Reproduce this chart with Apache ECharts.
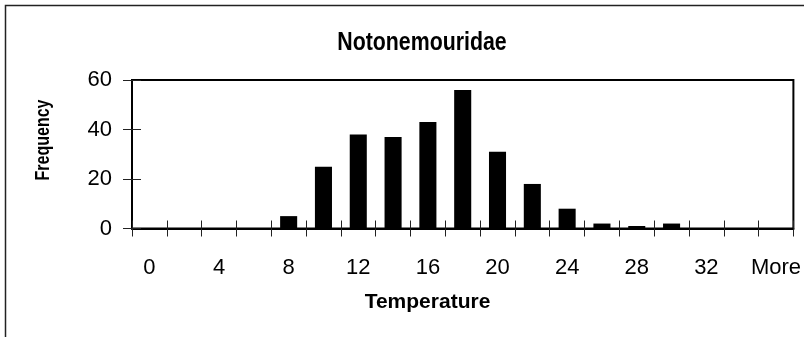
<!DOCTYPE html>
<html>
<head>
<meta charset="utf-8">
<title>Notonemouridae</title>
<script src="https://cdn.jsdelivr.net/npm/echarts@6/dist/echarts.min.js"></script>
<style>
  html, body { margin: 0; padding: 0; background: #fff; }
  #chart { width: 804px; height: 337px; }
</style>
</head>
<body>
<div id="chart"></div>
<script>
// Histogram bins (upper edge of each temperature bin) and their counts
const temperatureBins = ['0', '2', '4', '6', '8', '10', '12', '14', '16', '18',
  '20', '22', '24', '26', '28', '30', '32', '34', 'More'];
const frequency = [0, 0, 0, 0, 5, 25, 38, 37, 43, 56, 31, 18, 8, 2, 1, 2, 0, 0, 0];
const yMin = 0;
const yMax = 60;
const yStep = 20;

const FONT = "'Liberation Sans', Arial, sans-serif";

const chart = echarts.init(document.getElementById('chart'), null, { renderer: 'canvas' });

const catAxisBase = {
  type: 'category',
  data: temperatureBins,
  gridIndex: 0,
  position: 'bottom',
  boundaryGap: true
};

chart.setOption({
  animation: false,
  backgroundColor: '#fff',
  grid: {
    left: 132, right: 8.5, top: 80, bottom: 108.5,
    show: true,
    borderColor: '#000',
    borderWidth: 2,
    backgroundColor: 'transparent'
  },
  xAxis: [
    Object.assign({}, catAxisBase, {
      axisLine: { show: true, lineStyle: { color: '#000', width: 2 } },
      axisTick: { show: true, interval: 0, alignWithLabel: false, length: 8, lineStyle: { color: '#222', width: 1 } },
      axisLabel: { interval: 1, margin: 28, fontFamily: FONT, fontSize: 22, color: '#000' },
      splitLine: { show: false }
    }),
    // tick marks on the inner side of the category axis
    Object.assign({}, catAxisBase, {
      axisLine: { show: false },
      axisTick: { show: true, inside: true, interval: 0, alignWithLabel: false, length: 8, lineStyle: { color: '#222', width: 1 } },
      axisLabel: { show: false },
      splitLine: { show: false }
    })
  ],
  yAxis: [
    {
      type: 'value',
      min: yMin, max: yMax, interval: yStep,
      position: 'left',
      axisLine: { show: true, lineStyle: { color: '#000', width: 2 } },
      axisTick: { show: true, length: 9, lineStyle: { color: '#222', width: 1 } },
      axisLabel: { margin: 20, fontFamily: FONT, fontSize: 22, color: '#000' },
      splitLine: { show: false }
    },
    {
      type: 'value',
      min: yMin, max: yMax, interval: yStep,
      position: 'left',
      axisLine: { show: false },
      axisTick: { show: true, inside: true, length: 9, lineStyle: { color: '#222', width: 1 } },
      axisLabel: { show: false },
      splitLine: { show: false }
    }
  ],
  graphic: [
    {
      type: 'rect',
      silent: true,
      shape: { x: 5.5, y: 5.5, width: 900, height: 500 },
      style: { fill: 'none', stroke: '#222', lineWidth: 1.5 }
    },
    // chart title
    {
      type: 'text',
      x: 422, y: 43,
      scaleX: 0.82,
      style: {
        text: 'Notonemouridae',
        align: 'center', verticalAlign: 'middle',
        fontFamily: FONT, fontSize: 26, fontWeight: 'bold', fill: '#000'
      }
    },
    // value axis title
    {
      type: 'text',
      x: 44, y: 140,
      rotation: Math.PI / 2,
      scaleX: 0.82,
      style: {
        text: 'Frequency',
        align: 'center', verticalAlign: 'middle',
        fontFamily: FONT, fontSize: 19.5, fontWeight: 'bold', fill: '#000'
      }
    },
    // category axis title
    {
      type: 'text',
      x: 427.5, y: 302,
      scaleX: 1.05,
      style: {
        text: 'Temperature',
        align: 'center', verticalAlign: 'middle',
        fontFamily: FONT, fontSize: 20, fontWeight: 'bold', fill: '#000'
      }
    }
  ],
  series: [
    {
      type: 'bar',
      xAxisIndex: 0,
      yAxisIndex: 0,
      data: frequency,
      barWidth: '49%',
      itemStyle: { color: '#000' }
    }
  ]
});
</script>
</body>
</html>
